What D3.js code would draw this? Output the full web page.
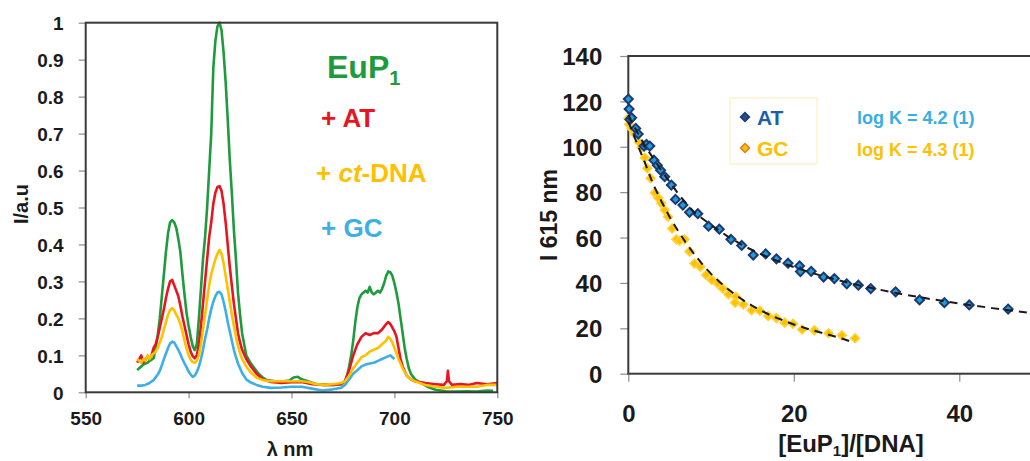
<!DOCTYPE html>
<html><head><meta charset="utf-8">
<script src="https://cdn.jsdelivr.net/npm/d3@7"></script>
<style>
html,body{margin:0;padding:0;background:#fff;}
svg{display:block;font-family:"Liberation Sans",Arial,sans-serif;}
</style></head>
<body><svg id="c" width="1030" height="461"></svg>
<script>
// ---------- Left panel: emission spectra (λ nm, I/a.u) ----------
const specEuP1 = [[575,0.06],[576,0.065],[577,0.07],[578,0.075],[579,0.078],[580,0.08],[581,0.085],[582,0.088],[583,0.092],[584,0.12],[585,0.155],[586,0.2],[587,0.26],[588,0.32],[589,0.38],[590,0.43],[591,0.46],[592,0.466],[593,0.46],[594,0.445],[595,0.415],[596,0.38],[597,0.32],[598,0.265],[599,0.215],[600,0.18],[601,0.15],[602,0.125],[603,0.114],[604,0.13],[605,0.2],[606,0.28],[607,0.36],[608,0.42],[609,0.5],[610,0.6],[611,0.7],[612,0.877],[613,0.95],[614,0.99],[615,1.0],[616,0.98],[617,0.92],[618,0.84],[619,0.74],[620,0.63],[621,0.54],[622,0.44],[623,0.36],[624,0.27],[625,0.21],[626,0.16],[627,0.13],[628,0.1],[630,0.08],[632,0.065],[634,0.05],[636,0.04],[638,0.033],[642,0.03],[646,0.03],[649,0.032],[651,0.04],[653,0.042],[655,0.035],[658,0.03],[662,0.022],[666,0.02],[670,0.02],[674,0.022],[676,0.03],[677,0.045],[678,0.07],[679,0.1],[680,0.14],[681,0.19],[682,0.23],[683,0.255],[684,0.265],[685,0.27],[686,0.275],[687,0.27],[688,0.285],[689,0.27],[690,0.265],[691,0.27],[692,0.275],[693,0.27],[694,0.28],[695,0.295],[696,0.315],[697,0.327],[698,0.325],[699,0.315],[700,0.295],[701,0.27],[702,0.24],[703,0.2],[704,0.16],[705,0.12],[706,0.09],[707,0.065],[708,0.05],[710,0.035],[713,0.025],[716,0.015],[720,0.007],[725,0.003],[730,0.002],[735,0.003],[740,0.002],[745,0.005],[748,0.004]];
const specAT = [[575,0.08],[576,0.09],[577,0.1],[578,0.08],[579,0.09],[580,0.095],[581,0.09],[582,0.1],[583,0.12],[584,0.13],[585,0.15],[586,0.175],[587,0.2],[588,0.225],[589,0.255],[590,0.28],[591,0.3],[592,0.304],[593,0.29],[594,0.275],[595,0.26],[596,0.235],[597,0.205],[598,0.18],[599,0.155],[600,0.13],[601,0.11],[602,0.098],[603,0.092],[604,0.1],[605,0.13],[606,0.18],[607,0.24],[608,0.3],[609,0.36],[610,0.42],[611,0.46],[612,0.51],[613,0.54],[614,0.555],[615,0.558],[616,0.545],[617,0.51],[618,0.46],[619,0.4],[620,0.34],[621,0.29],[622,0.24],[623,0.2],[624,0.16],[625,0.135],[626,0.115],[628,0.09],[630,0.072],[633,0.05],[636,0.035],[640,0.028],[645,0.025],[650,0.027],[655,0.028],[660,0.022],[665,0.02],[670,0.02],[674,0.022],[676,0.03],[678,0.06],[680,0.1],[682,0.13],[684,0.15],[686,0.16],[688,0.155],[690,0.16],[692,0.16],[694,0.17],[696,0.185],[697,0.19],[698,0.185],[699,0.175],[700,0.165],[701,0.15],[702,0.12],[703,0.09],[704,0.07],[706,0.045],[708,0.035],[710,0.03],[715,0.025],[720,0.022],[724,0.02],[725.5,0.03],[726,0.058],[726.5,0.03],[728,0.02],[732,0.022],[736,0.02],[740,0.025],[745,0.022],[750,0.025]];
const specCT = [[575,0.09],[576,0.085],[577,0.08],[578,0.09],[579,0.085],[580,0.1],[581,0.09],[582,0.1],[583,0.105],[584,0.11],[585,0.12],[586,0.135],[587,0.15],[588,0.17],[589,0.19],[590,0.21],[591,0.222],[592,0.228],[593,0.222],[594,0.21],[595,0.2],[596,0.185],[597,0.165],[598,0.14],[599,0.118],[600,0.1],[601,0.088],[602,0.082],[603,0.08],[604,0.085],[605,0.1],[606,0.13],[607,0.17],[608,0.21],[609,0.25],[610,0.29],[611,0.32],[612,0.34],[613,0.36],[614,0.375],[615,0.385],[616,0.375],[617,0.35],[618,0.315],[619,0.28],[620,0.245],[621,0.21],[622,0.18],[623,0.15],[624,0.125],[625,0.105],[626,0.09],[628,0.07],[630,0.055],[633,0.04],[636,0.033],[640,0.03],[645,0.03],[650,0.03],[655,0.03],[658,0.028],[662,0.022],[666,0.02],[670,0.022],[674,0.025],[676,0.03],[678,0.045],[680,0.065],[682,0.08],[684,0.095],[686,0.1],[688,0.11],[690,0.115],[692,0.12],[694,0.13],[696,0.14],[697,0.15],[698,0.145],[699,0.135],[700,0.12],[702,0.09],[704,0.065],[706,0.045],[708,0.035],[710,0.03],[715,0.02],[720,0.015],[725,0.012],[730,0.015],[735,0.015],[740,0.015],[745,0.02],[750,0.02]];
const specGC = [[575,0.018],[577,0.018],[579,0.02],[581,0.025],[583,0.033],[585,0.048],[586,0.058],[587,0.073],[588,0.09],[589,0.105],[590,0.12],[591,0.132],[592,0.137],[593,0.135],[594,0.125],[595,0.115],[596,0.103],[597,0.09],[598,0.078],[599,0.068],[600,0.056],[601,0.048],[602,0.042],[603,0.045],[604,0.055],[605,0.07],[606,0.09],[607,0.115],[608,0.145],[609,0.17],[610,0.2],[611,0.225],[612,0.245],[613,0.26],[614,0.27],[615,0.272],[616,0.265],[617,0.245],[618,0.22],[619,0.19],[620,0.165],[621,0.14],[622,0.115],[623,0.095],[624,0.078],[625,0.065],[626,0.052],[628,0.035],[630,0.027],[633,0.02],[636,0.015],[640,0.012],[645,0.013],[650,0.015],[655,0.015],[660,0.01],[665,0.005],[670,0.008],[674,0.012],[676,0.02],[678,0.035],[680,0.05],[682,0.06],[684,0.07],[686,0.075],[688,0.078],[690,0.08],[692,0.085],[694,0.09],[696,0.095],[698,0.1],[699,0.095],[700,0.09]];
const leftXTicks = [550,600,650,700,750];
const leftYTicks = [0,0.1,0.2,0.3,0.4,0.5,0.6,0.7,0.8,0.9,1];
const leftLegend = ["+ AT","+ ct-DNA","+ GC"];

// ---------- Right panel: I615 vs [EuP1]/[DNA] ----------
const atX = [0,0.1,0.2,0.4,0.9,1.2,1.9,2.2,2.6,3.1,3.5,3.9,4.4,5.2,5.7,6.6,7.4,8.4,9.7,11,12.4,13.7,15.1,16.6,17.9,19.3,20.7,20.8,22.1,23.6,24.9,26.4,27.8,29.3,32.3,35.2,38.2,41.2,45.9];
const atY = [121,116.6,112,112.8,108.1,105.6,100.3,101,100.3,94.1,91.9,89.7,86.8,83.1,76.8,74.3,71.1,70.5,65,63.7,59.2,56.5,52.3,52.8,50.6,48.7,47.5,45,45.1,42.6,41.9,39.6,39,37.5,36.1,32.5,31.3,30.3,28.5];
const gcX = [0,0.1,0.4,0.8,1.3,1.6,2.0,2.3,2.7,3.2,3.6,4.0,4.4,4.8,5.3,5.8,6.2,6.8,7.4,8.0,8.7,9.4,10.1,10.8,11.4,12.1,13.0,12.9,13.9,14.9,15.9,16.9,17.9,18.9,19.9,21.0,22.5,24.2,25.8,27.4];
const gcY = [112.5,109.9,108,105.5,101.9,99.7,95.2,90.5,86.1,79.7,77.5,75.1,72.1,69.2,64,59.2,58.6,59.2,53.8,48.6,47.1,43.5,41.3,39.8,37.6,35,33.9,31.3,30.5,28,27.7,25.4,24.5,22.5,22,19.5,19.1,17.8,16.9,15.6];
const atFitX = [0,1,2,3,4,5,6,7,8,10,12,14,16,18,20,22,24,26,28,30,33,36,40,44,48.5,50];
const atFitY = [114,107,100.5,95,89.5,84.5,79.5,75,71,65.5,60.5,56.2,52.7,49.7,47,44.6,42.5,40.6,38.9,37.3,35.1,33.2,30.9,28.9,26.8,26.2];
const gcFitX = [0,1,2,3,4,5,6,7,8,9,10,11,12,13,14,15,16,17,18,20,22,24,26,27.3];
const gcFitY = [111,102,93,83.5,76,69,63,57.5,52.5,48,44,40.5,37.4,34.6,32.1,29.9,27.9,26.1,24.5,21.7,19.4,17.4,15.3,13.6];
const rightXTicks = [0,20,40];
const rightYTicks = [0,20,40,60,80,100,120,140];
const rightLegend = ["AT","GC"];
const logK = ["log K = 4.2 (1)","log K = 4.3 (1)"];

const svg = d3.select("#c");
const AX = "#3a3a3a", TK = "#8c8c8c";

// ======== LEFT ========
const lx = d3.scaleLinear().domain([550,750]).range([85.7,497.3]);
const ly = d3.scaleLinear().domain([0,1]).range([392.3,22.7]);
const L = svg.append("g");
svg.append("clipPath").attr("id","clipL").append("rect")
  .attr("x",85.7).attr("y",15).attr("width",497.3-85.7).attr("height",392.3-15);

const lxa = L.append("g").attr("transform","translate(0,392.3)")
  .call(d3.axisBottom(lx).tickValues(leftXTicks).tickSize(6).tickFormat(d3.format("d")));
lxa.select(".domain").remove();
lxa.selectAll("line").attr("stroke",TK).attr("stroke-width",1.2);
lxa.selectAll("text").attr("font-size",19).attr("font-weight","bold").attr("fill","#1a1a1a").attr("dy","1.25em");

const lya = L.append("g").attr("transform","translate(85.7,0)")
  .call(d3.axisLeft(ly).tickValues(leftYTicks).tickSize(7)
    .tickFormat(d => d===0 ? "0" : d===1 ? "1" : d3.format(".1f")(d)));
lya.select(".domain").remove();
lya.selectAll("line").attr("stroke",TK).attr("stroke-width",1.2);
lya.selectAll("text").attr("font-size",19).attr("font-weight","bold").attr("fill","#1a1a1a").attr("x",-22).attr("dy","0.36em");

const line = d3.line().x(d=>lx(d[0])).y(d=>ly(d[1]));
const gL = L.append("g").attr("clip-path","url(#clipL)");
[[specEuP1,"#1e9b3d"],[specGC,"#3cb0e6"],[specAT,"#e8141f"],[specCT,"#ffc000"]].forEach(([s,c])=>{
  gL.append("path").datum(s).attr("d",line).attr("fill","none").attr("stroke",c)
    .attr("stroke-width",2.6).attr("stroke-linejoin","round");
});
L.append("rect").attr("x",85.7).attr("y",22.7).attr("width",497.3-85.7).attr("height",392.3-22.7)
  .attr("fill","none").attr("stroke",AX).attr("stroke-width",2);

L.append("text").attr("x",290).attr("y",456).attr("text-anchor","middle")
  .attr("font-size",20).attr("font-weight","bold").attr("fill","#1a1a1a").text("λ nm");
L.append("text").attr("transform","translate(28,204) rotate(-90)").attr("text-anchor","middle")
  .attr("font-size",20).attr("font-weight","bold").attr("fill","#1a1a1a").text("I/a.u");

const eu = L.append("text").attr("x",327).attr("y",78).attr("font-size",32).attr("font-weight","bold").attr("fill","#1e9b3d");
eu.append("tspan").text("EuP");
eu.append("tspan").attr("font-size",20).attr("dy",7).text("1");

L.append("text").attr("x",321).attr("y",127).attr("font-size",26).attr("font-weight","bold").attr("fill","#e8141f").text(leftLegend[0]);
const ct = L.append("text").attr("x",316).attr("y",182).attr("font-size",26).attr("font-weight","bold").attr("fill","#ffc000");
ct.append("tspan").text("+ ");
ct.append("tspan").attr("font-style","italic").text("ct");
ct.append("tspan").text("-DNA");
L.append("text").attr("x",321).attr("y",237).attr("font-size",26).attr("font-weight","bold").attr("fill","#3cb0e6").text(leftLegend[2]);

// ======== RIGHT ========
const rx = d3.scaleLinear().domain([0,60]).range([628.3,628.3+60*8.275]);
const ry = d3.scaleLinear().domain([0,140]).range([373.7,56]);
const R = svg.append("g");

const rxa = R.append("g").attr("transform","translate(0,373.7)")
  .call(d3.axisBottom(rx).tickValues(rightXTicks).tickSize(8).tickFormat(d3.format("d")));
rxa.select(".domain").remove();
rxa.selectAll("line").attr("stroke",TK).attr("stroke-width",1.2);
rxa.selectAll("text").attr("font-size",24).attr("font-weight","bold").attr("fill","#1a1a1a").attr("dy","1.55em");

const rya = R.append("g").attr("transform","translate(628.3,0)")
  .call(d3.axisLeft(ry).tickValues(rightYTicks).tickSize(8).tickFormat(d3.format("d")));
rya.select(".domain").remove();
rya.selectAll("line").attr("stroke",TK).attr("stroke-width",1.2);
rya.selectAll("text").attr("font-size",24).attr("font-weight","bold").attr("fill","#1a1a1a").attr("x",-26).attr("dy","0.36em");

R.append("rect").attr("x",628.3).attr("y",56).attr("width",60*8.275).attr("height",373.7-56)
  .attr("fill","none").attr("stroke",AX).attr("stroke-width",2);

const fit = d3.line().x(d=>rx(d[0])).y(d=>ry(d[1]));
const dm = d3.symbol(d3.symbolSquare, 40);
const atPts = atX.map((v,i)=>[v,atY[i]]);
const gcPts = gcX.map((v,i)=>[v,gcY[i]]);

R.selectAll(".gc").data(gcPts).join("path").attr("class","gc").attr("d",dm)
  .attr("transform",d=>`translate(${rx(d[0])},${ry(d[1])}) rotate(45)`)
  .attr("fill","#ffc000").attr("stroke","#ffd23a").attr("stroke-width",1.5);
R.selectAll(".at").data(atPts).join("path").attr("class","at").attr("d",dm)
  .attr("transform",d=>`translate(${rx(d[0])},${ry(d[1])}) rotate(45)`)
  .attr("fill","#1f9be0").attr("stroke","#1c3a70").attr("stroke-width",2);

[[atFitX,atFitY],[gcFitX,gcFitY]].forEach(([X,Y])=>{
  R.append("path").datum(X.map((v,i)=>[v,Y[i]])).attr("d",fit).attr("fill","none")
    .attr("stroke","#1a1a1a").attr("stroke-width",2).attr("stroke-dasharray","8,6");
});

R.append("text").attr("transform","translate(557,215) rotate(-90)").attr("text-anchor","middle")
  .attr("font-size",23).attr("font-weight","bold").attr("fill","#1a1a1a").text("I 615 nm");
const xt = R.append("text").attr("x",851).attr("y",452).attr("text-anchor","middle")
  .attr("font-size",24).attr("font-weight","bold").attr("fill","#1a1a1a");
xt.append("tspan").text("[EuP");
xt.append("tspan").attr("font-size",15).attr("dy",4).text("1");
xt.append("tspan").attr("dy",-4).text("]/[DNA]");

R.append("rect").attr("x",730).attr("y",98).attr("width",87).attr("height",66)
  .attr("fill","#fff").attr("stroke","#fff0c0").attr("stroke-width",1.2);
R.append("path").attr("d",dm).attr("transform","translate(745,117) rotate(45)")
  .attr("fill","#1f4e8c").attr("stroke","#1c3a70").attr("stroke-width",1.5);
R.append("path").attr("d",dm).attr("transform","translate(745,148) rotate(45)")
  .attr("fill","#ffc000").attr("stroke","#e07a20").attr("stroke-width",1.5);
R.append("text").attr("x",757).attr("y",125).attr("font-size",21).attr("font-weight","bold").attr("fill","#1f5fa8").text(rightLegend[0]);
R.append("text").attr("x",757).attr("y",156).attr("font-size",21).attr("font-weight","bold").attr("fill","#ffc000").text(rightLegend[1]);
R.append("text").attr("x",857).attr("y",124).attr("font-size",18).attr("font-weight","bold").attr("fill","#3aaee0").text(logK[0]);
R.append("text").attr("x",857).attr("y",156).attr("font-size",18).attr("font-weight","bold").attr("fill","#ffc000").text(logK[1]);
</script></body></html>
